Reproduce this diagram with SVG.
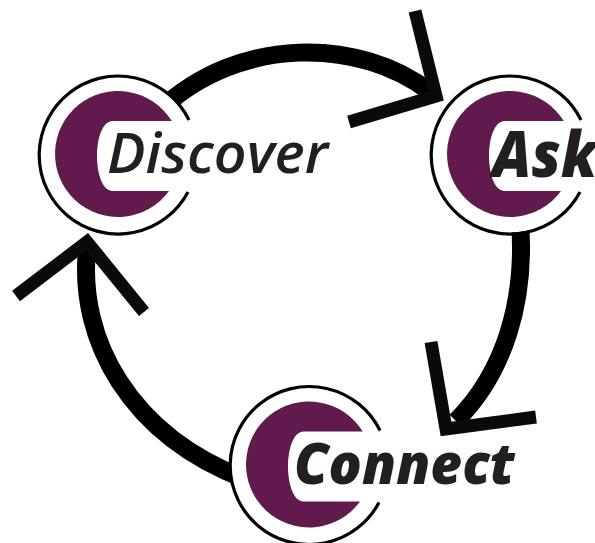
<svg xmlns="http://www.w3.org/2000/svg" width="595" height="543" viewBox="0 0 595 543">
<style>
.arc{fill:none;stroke:#000;stroke-width:18}
.head{fill:none;stroke:#0a0a0a;stroke-width:13;stroke-miterlimit:10}
.ring{fill:none;stroke:#000;stroke-width:3.2}
.moon{fill:#611a4c}
.lbl{font-family:"Open Sans","Noto Sans",sans-serif;font-style:italic;fill:#231f20}
</style>
<defs>
<g id="badge">
<circle cx="118" cy="154" r="78.5" fill="#fff"/>
<path class="ring" d="M189,120 A79,79 0 1 0 188,192"/>
<path class="moon" d="M171.7,121 A63,63 0 1 0 169,191 L113,191 C101,191 97,170 97,156 C97,142 101,121 113,121 Z"/>
</g>
</defs>
<rect width="595" height="543" fill="#fff"/>
<g id="connectors">
<path class="arc" d="M160,110 C240,35 360,38 430,92"/>
<polyline class="head" points="415,11 436,96 349,122"/>
<path class="arc" d="M520,222 C526,300 505,372 456,421"/>
<polyline class="head" points="431,342 446,429 536,417"/>
<path class="arc" d="M245,479 C130,435 78,340 87,250"/>
<polyline class="head" points="16,296 87,242 144,312"/>
</g>
<g id="node-discover">
<use href="#badge"/>
<text class="lbl" x="107" y="173" font-size="56" font-weight="600" textLength="221" lengthAdjust="spacingAndGlyphs">Discover</text>
</g>
<g id="node-ask">
<use href="#badge" x="392" y="0"/>
<text class="lbl" x="492" y="177" font-size="63" font-weight="800" textLength="105" lengthAdjust="spacingAndGlyphs">Ask</text>
</g>
<g id="node-connect">
<use href="#badge" x="191" y="310.5"/>
<text class="lbl" x="294" y="484" font-size="56" font-weight="800" textLength="221" lengthAdjust="spacingAndGlyphs">Connect</text>
</g>
</svg>
